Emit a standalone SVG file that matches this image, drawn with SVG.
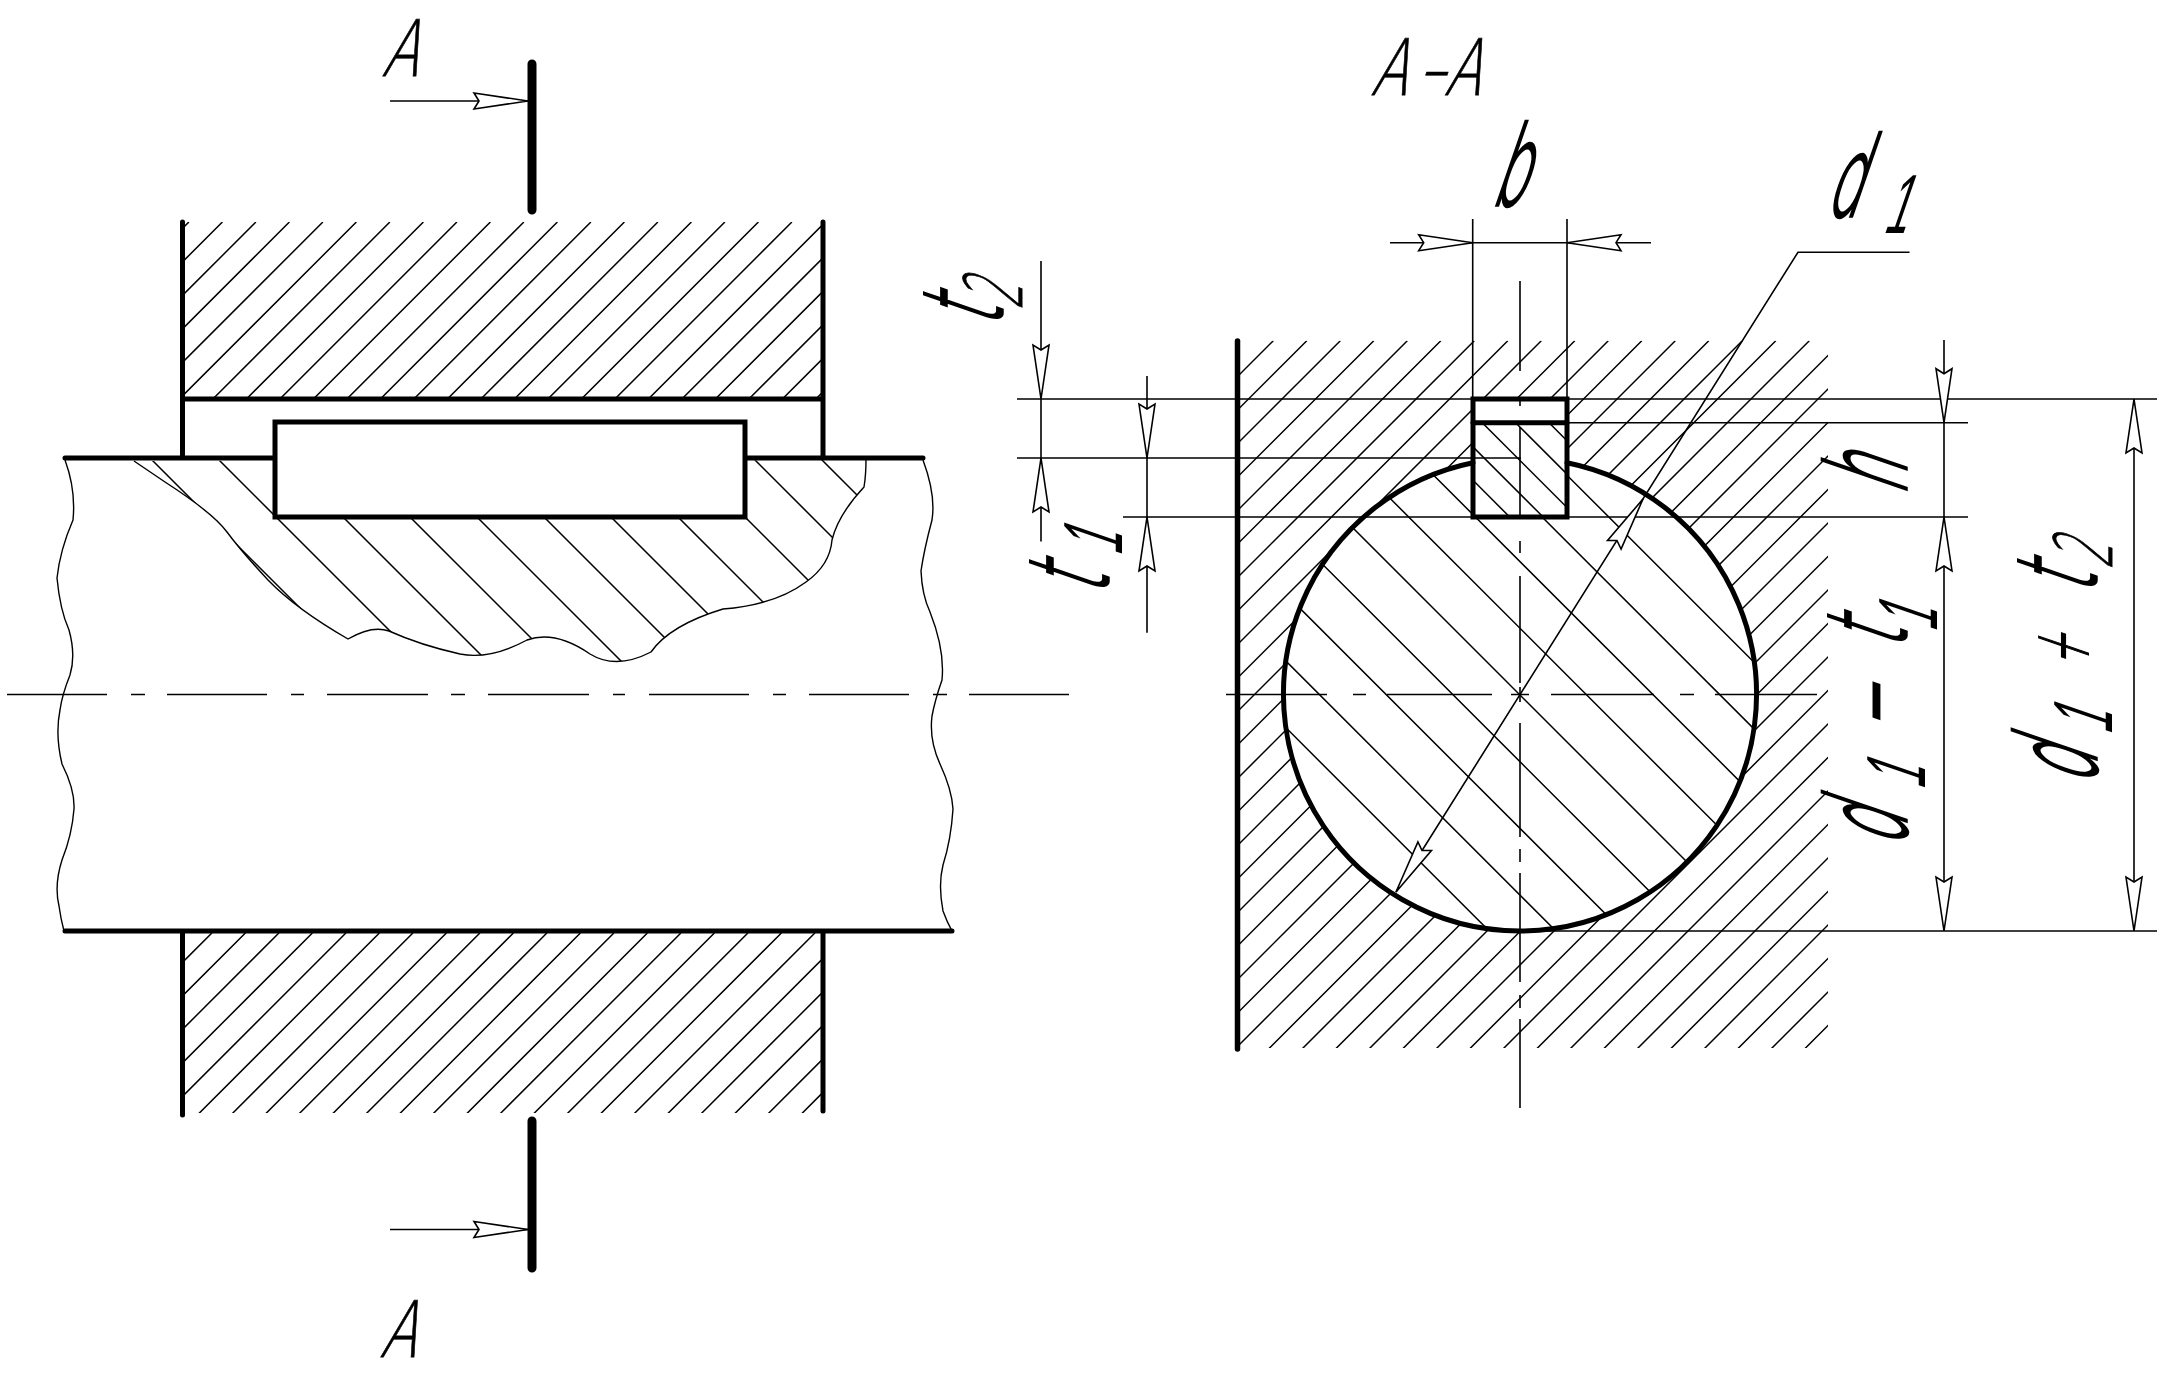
<svg xmlns="http://www.w3.org/2000/svg" xmlns:xlink="http://www.w3.org/1999/xlink" width="2162" height="1376" viewBox="0 0 2162 1376">
<style>
.thin{fill:none;stroke:#000;stroke-width:1.6}
.wav{fill:none;stroke:#000;stroke-width:1.4}
.hat{fill:none;stroke:#000;stroke-width:1.5}
.thk{fill:none;stroke:#000;stroke-width:5;stroke-linecap:round;stroke-linejoin:miter}
.sec{fill:none;stroke:#000;stroke-width:9;stroke-linecap:round}
.ar{fill:#fff;stroke:#000;stroke-width:1.6;stroke-linejoin:miter}
text{font-family:"DejaVu Sans","Liberation Sans",sans-serif;font-weight:200;fill:#000}
.big{font-size:110px;stroke:#000;stroke-width:3.5}
.sub{font-size:80px;stroke-width:1}
.one{font-family:"Liberation Sans",sans-serif;font-weight:400;font-size:84px;stroke-width:0}
.op{font-size:78px;stroke-width:2}
.cap{font-size:78px;stroke:#000;stroke-width:.8}
</style>
<defs>
<path id="arr" d="M0,0 L-54,-8 L-49,0 L-54,8 Z"/>
<path id="brk" d="M134,461 L165,482 Q213,513 227,532 Q241,551 268,580 Q296,609 348,639 Q372,625 389,631 Q420,645 460,654 Q490,660 527,640 Q555,630 590,654 Q616,670 651,652 Q670,625 723,609 Q775,605 806,582 Q830,565 832,540 Q838,515 864,487 Q866,475 866,460"/>
<clipPath id="cTop"><rect x="185" y="222" width="636" height="175"/></clipPath>
<clipPath id="cBot"><rect x="185" y="933" width="636" height="180"/></clipPath>
<clipPath id="cShaft"><use xlink:href="#brk" href="#brk"/></clipPath>
<clipPath id="cHub"><path clip-rule="evenodd" d="M1240,340.7 H1828 V1048 H1240 Z M1473,462.7 L1473,399 L1567,399 L1567,462.7 A236.5,236.5 0 1 1 1473,462.7 Z"/></clipPath>
<clipPath id="cShaftCut"><path d="M1473,462.7 L1473,517 L1567,517 L1567,462.7 A236.5,236.5 0 1 1 1473,462.7 Z"/></clipPath>
<clipPath id="cKey"><rect x="1475" y="425" width="90" height="90"/></clipPath>
</defs>
<rect width="2162" height="1376" fill="#fff"/>

<g id="left-view">
<path class="hat" clip-path="url(#cTop)" d="M188.9,222 l-176,176 m209.5,-176 l-176,176 m209.5,-176 l-176,176 m209.5,-176 l-176,176 m209.5,-176 l-176,176 m209.5,-176 l-176,176 m209.5,-176 l-176,176 m209.5,-176 l-176,176 m209.5,-176 l-176,176 m209.5,-176 l-176,176 m209.5,-176 l-176,176 m209.5,-176 l-176,176 m209.5,-176 l-176,176 m209.5,-176 l-176,176 m209.5,-176 l-176,176 m209.5,-176 l-176,176 m209.5,-176 l-176,176 m209.5,-176 l-176,176 m209.5,-176 l-176,176 m209.5,-176 l-176,176 m209.5,-176 l-176,176 m209.5,-176 l-176,176 m209.5,-176 l-176,176 m209.5,-176 l-176,176 m209.5,-176 l-176,176"/>
<path class="hat" clip-path="url(#cBot)" d="M178.4,933 l-181,181 m214.5,-181 l-181,181 m214.5,-181 l-181,181 m214.5,-181 l-181,181 m214.5,-181 l-181,181 m214.5,-181 l-181,181 m214.5,-181 l-181,181 m214.5,-181 l-181,181 m214.5,-181 l-181,181 m214.5,-181 l-181,181 m214.5,-181 l-181,181 m214.5,-181 l-181,181 m214.5,-181 l-181,181 m214.5,-181 l-181,181 m214.5,-181 l-181,181 m214.5,-181 l-181,181 m214.5,-181 l-181,181 m214.5,-181 l-181,181 m214.5,-181 l-181,181 m214.5,-181 l-181,181 m214.5,-181 l-181,181 m214.5,-181 l-181,181 m214.5,-181 l-181,181 m214.5,-181 l-181,181 m214.5,-181 l-181,181"/>
<path class="hat" clip-path="url(#cShaft)" d="M83,458 l205,205 m-138,-205 l205,205 m-138,-205 l205,205 m-138,-205 l205,205 m-138,-205 l205,205 m-138,-205 l205,205 m-138,-205 l205,205 m-138,-205 l205,205 m-138,-205 l205,205 m-138,-205 l205,205 m-138,-205 l205,205 m-138,-205 l205,205 m-138,-205 l205,205"/>
<use xlink:href="#brk" href="#brk" class="wav"/>
<path class="wav" d="M65,460 Q76,490 73,520 Q60,550 57,578 Q60,610 69,630 Q76,655 70,675 Q62,695 60,710 Q55,735 62,764 Q75,790 74,809 Q72,835 62,860 Q54,885 59,906 Q61,920 64,931"/>
<path class="wav" d="M923,460 Q936,495 932,520 Q924,550 921,571 Q922,595 930,612 Q945,650 942,680 Q935,700 932,716 Q929,740 940,764 Q952,790 953,809 Q951,840 943,865 Q938,885 943,911 Q947,922 952,931"/>
<path class="thk" d="M182.5,222 V458 M823,222 V458 M182.5,399 H823 M65,458 H923 M65,931 H952 M182.5,933 V1115 M823,933 V1111"/>
<rect class="thk" x="275" y="422" width="470" height="95" style="fill:#fff"/>
<path class="thin" d="M7,694.5 H107 M131,694.5 H145 M167,694.5 H267 M291,694.5 H304 M327,694.5 H428 M451,694.5 H465 M488,694.5 H589 M613,694.5 H625 M649,694.5 H749 M773,694.5 H786 M809,694.5 H909 M933,694.5 H947 M969,694.5 H1069"/>
</g>

<g id="section-marks">
<path class="sec" d="M532,64 V210 M532,1121 V1268"/>
<path class="thin" d="M390,101 H528 M390,1229.5 H528"/>
<use xlink:href="#arr" href="#arr" class="ar" transform="translate(528,101)"/>
<use xlink:href="#arr" href="#arr" class="ar" transform="translate(528,1229.5)"/>
</g>

<g id="right-view">
<path class="hat" clip-path="url(#cHub)" d="M1239.8,340.7 l-708,708 m741.5,-708 l-708,708 m741.5,-708 l-708,708 m741.5,-708 l-708,708 m741.5,-708 l-708,708 m741.5,-708 l-708,708 m741.5,-708 l-708,708 m741.5,-708 l-708,708 m741.5,-708 l-708,708 m741.5,-708 l-708,708 m741.5,-708 l-708,708 m741.5,-708 l-708,708 m741.5,-708 l-708,708 m741.5,-708 l-708,708 m741.5,-708 l-708,708 m741.5,-708 l-708,708 m741.5,-708 l-708,708 m741.5,-708 l-708,708 m741.5,-708 l-708,708 m741.5,-708 l-708,708 m741.5,-708 l-708,708 m741.5,-708 l-708,708 m741.5,-708 l-708,708 m741.5,-708 l-708,708 m741.5,-708 l-708,708 m741.5,-708 l-708,708 m741.5,-708 l-708,708 m741.5,-708 l-708,708 m741.5,-708 l-708,708 m741.5,-708 l-708,708 m741.5,-708 l-708,708 m741.5,-708 l-708,708 m741.5,-708 l-708,708 m741.5,-708 l-708,708 m741.5,-708 l-708,708 m741.5,-708 l-708,708 m741.5,-708 l-708,708 m741.5,-708 l-708,708 m741.5,-708 l-708,708"/>
<path class="hat" clip-path="url(#cShaftCut)" d="M816.1,458 l474,474 m-407.3,-474 l474,474 m-407.3,-474 l474,474 m-407.3,-474 l474,474 m-407.3,-474 l474,474 m-407.3,-474 l474,474 m-407.3,-474 l474,474 m-407.3,-474 l474,474 m-407.3,-474 l474,474 m-407.3,-474 l474,474 m-407.3,-474 l474,474 m-407.3,-474 l474,474 m-407.3,-474 l474,474 m-407.3,-474 l474,474 m-407.3,-474 l474,474"/>
<path class="hat" clip-path="url(#cKey)" d="M1382.3,423 l94,94 m-60.6,-94 l94,94 m-60.6,-94 l94,94 m-60.6,-94 l94,94 m-60.6,-94 l94,94 m-60.6,-94 l94,94 m-60.6,-94 l94,94"/>
<path class="thk" style="stroke-width:5.5" d="M1237.5,341 V1049"/>
<path class="thk" d="M1567,462.7 A236.5,236.5 0 1 1 1473,462.7"/>
<rect class="thk" x="1473" y="399" width="94" height="118"/>
<path class="thk" d="M1473,422.7 H1567"/>
<path class="thin" d="M1226,694.5 H1327 M1353,694.5 H1366 M1387,694.5 H1492 M1511,694.5 H1529 M1551,694.5 H1654 M1680,694.5 H1694 M1715,694.5 H1817"/>
<path class="thin" d="M1520,281 V371 M1520,397 V406 M1520,427 V518 M1520,541 V553 M1520,576 V683 M1520,687 V702 M1520,723 V837 M1520,849 V862 M1520,873 V982 M1520,995 V1008 M1520,1019 V1108"/>
</g>

<g id="dimensions">
<path class="thin" d="M1472.7,219 V399 M1567,219 V399 M1390,242.7 H1651"/>
<path class="thin" d="M1017,399 H2157 M1017,458 H1521 M1123,517 H1968 M1567,422.7 H1968 M1521,931 H2157"/>
<path class="thin" d="M1041,261 V541.6 M1147,376 V632.7 M1944,340 V931 M2134,399 V931"/>
<path class="thin" d="M1909.5,252.2 H1798 L1396,892"/>
<use xlink:href="#arr" href="#arr" class="ar" transform="translate(1472.7,242.7)"/>
<use xlink:href="#arr" href="#arr" class="ar" transform="translate(1567,242.7) rotate(180)"/>
<use xlink:href="#arr" href="#arr" class="ar" transform="translate(1041,399) rotate(90)"/>
<use xlink:href="#arr" href="#arr" class="ar" transform="translate(1041,458) rotate(-90)"/>
<use xlink:href="#arr" href="#arr" class="ar" transform="translate(1147,458) rotate(90)"/>
<use xlink:href="#arr" href="#arr" class="ar" transform="translate(1147,517) rotate(-90)"/>
<use xlink:href="#arr" href="#arr" class="ar" transform="translate(1944,422.7) rotate(90)"/>
<use xlink:href="#arr" href="#arr" class="ar" transform="translate(1944,517) rotate(-90)"/>
<use xlink:href="#arr" href="#arr" class="ar" transform="translate(1944,931) rotate(90)"/>
<use xlink:href="#arr" href="#arr" class="ar" transform="translate(2134,399) rotate(-90)"/>
<use xlink:href="#arr" href="#arr" class="ar" transform="translate(2134,931) rotate(90)"/>
<use xlink:href="#arr" href="#arr" class="ar" transform="translate(1643,499) rotate(-57.9)"/>
<use xlink:href="#arr" href="#arr" class="ar" transform="translate(1396,892) rotate(122.1)"/>
</g>

<g id="labels">
<text class="cap" transform="translate(381,76) skewX(-18) scale(.69,1)">A</text>
<text class="cap" transform="translate(379,1357) skewX(-18) scale(.69,1)">A</text>
<text class="cap" transform="translate(1370,95) skewX(-18) scale(.69,1)">A<tspan dx="14">–</tspan>A</text>
<text class="big" transform="translate(1490,204.5) skewX(-19) scale(.5,1)">b</text>
<text class="big" transform="translate(1824,215.6) skewX(-19) scale(.5,1)">d<tspan class="one" x="128" dy="17">1</tspan></text>
<text class="big" transform="translate(1002,328) rotate(-90) skewX(-19) scale(.5,1)">t<tspan class="sub" x="50" dy="20">2</tspan></text>
<text class="big" transform="translate(1108,596) rotate(-90) skewX(-19) scale(.5,1)">t<tspan class="one" x="88" dy="14">1</tspan></text>
<text class="big" transform="translate(1906,496) rotate(-90) skewX(-19) scale(.5,1)">h</text>
<text class="big" transform="translate(1906,848) rotate(-90) skewX(-19) scale(.5,1)">d<tspan class="one" x="128" dy="19">1</tspan><tspan x="228" dy="-14">−</tspan><tspan x="396" dy="-5">t</tspan><tspan class="one" x="452" dy="31">1</tspan></text>
<text class="big" transform="translate(2096,786) rotate(-90) skewX(-19) scale(.5,1)">d<tspan class="one" x="112" dy="16">1</tspan><tspan class="op" x="226" dy="-24">+</tspan><tspan x="382" dy="8">t</tspan><tspan class="sub" x="444" dy="16">2</tspan></text>
</g>
</svg>
